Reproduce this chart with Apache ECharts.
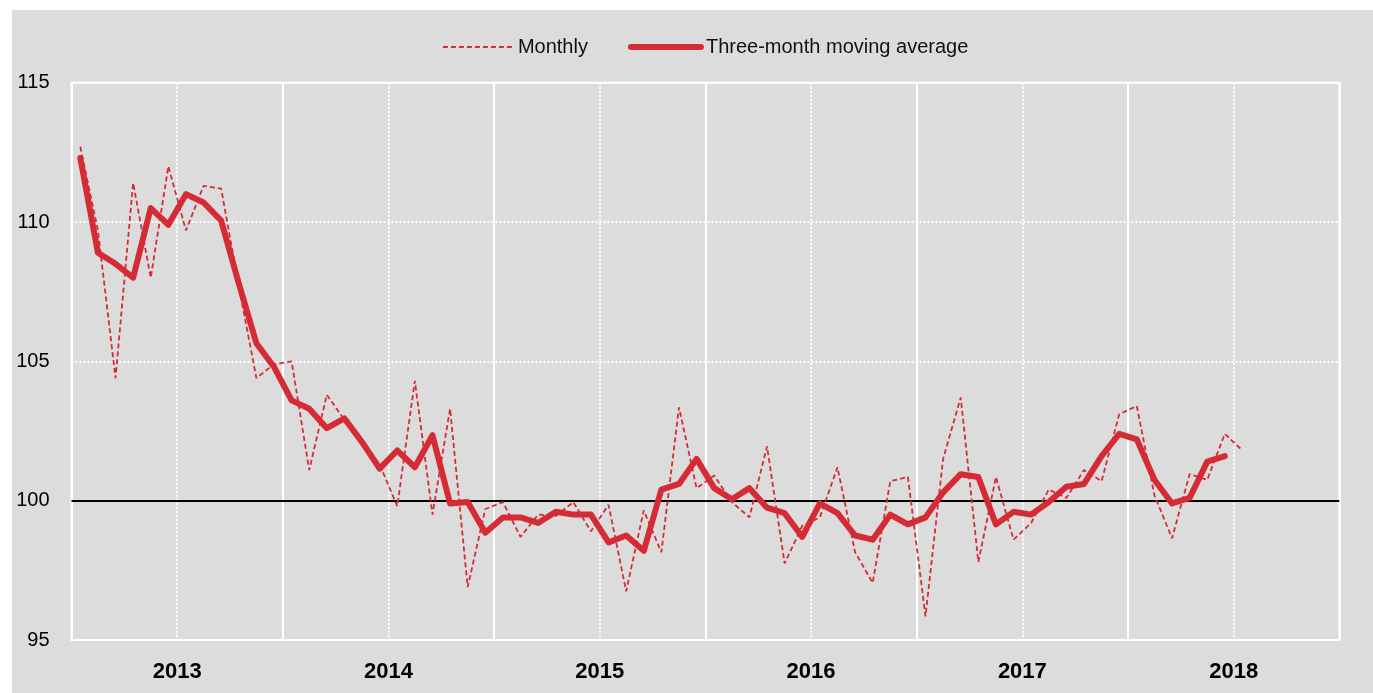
<!DOCTYPE html>
<html>
<head>
<meta charset="utf-8">
<script src="https://cdn.jsdelivr.net/npm/echarts@6/dist/echarts.min.js"></script>
<style>
  html, body { margin: 0; padding: 0; background: #fff; }
  #chart { position: absolute; left: 12px; top: 10px; width: 1361px; height: 683px; }
</style>
</head>
<body>
<div id="chart"></div>
<script>
const years = ['2013', '2014', '2015', '2016', '2017', '2018']
const yTicks = {min: 95, max: 115, step: 5}
const baseline = 100

// monthly index, Jan 2013 - Jul 2018
const monthly = [
  112.7, 109.7, 104.4, 111.4, 108.0, 112.0, 109.7, 111.3, 111.2, 107.7, 104.4, 104.9,
  105.0, 101.1, 103.8, 102.9, 102.2, 101.3, 99.8, 104.3, 99.5, 103.3, 96.9, 99.7,
  99.95, 98.7, 99.5, 99.45, 99.95, 98.9, 99.85, 96.75, 99.65, 98.15, 103.35, 100.45,
  100.9, 99.95, 99.4, 101.95, 97.75, 99.1, 99.4, 101.2, 98.15, 97.05, 100.7, 100.85,
  95.85, 101.5, 103.7, 97.8, 100.85, 98.6, 99.2, 100.4, 100.1, 101.1, 100.7, 103.1,
  103.4, 100.2, 98.65, 100.95, 100.75, 102.4, 101.8
]

// three-month moving average, Jan 2013 - Jun 2018
const movingAvg = [
  112.3, 108.9, 108.5, 108.0, 110.5, 109.9, 111.0, 110.7, 110.05, 107.8, 105.65, 104.8,
  103.6, 103.3, 102.6, 102.95, 102.1, 101.15, 101.8, 101.2, 102.35, 99.9, 99.95, 98.85,
  99.4, 99.4, 99.2, 99.6, 99.5, 99.5, 98.5, 98.75, 98.2, 100.4, 100.6, 101.5,
  100.45, 100.05, 100.45, 99.75, 99.55, 98.7, 99.9, 99.55, 98.75, 98.6, 99.5, 99.15,
  99.4, 100.3, 100.95, 100.85, 99.15, 99.6, 99.5, 99.95, 100.5, 100.6, 101.6, 102.4,
  102.2, 100.75, 99.9, 100.1, 101.4, 101.6
]

const months = []
years.forEach(y => {
  for (let m = 1; m <= 12; m++) months.push(y + '-' + String(m).padStart(2, '0'))
})

const RED = '#d52b35'
const FONT = "'Liberation Sans', Arial, sans-serif"
const DASH = [5, 3]

const monthAxis = (splitInterval, lineType) => ({
  type: 'category',
  position: 'bottom',
  data: months,
  boundaryGap: true,
  axisLine: {show: false},
  axisTick: {show: false},
  axisLabel: {show: false},
  splitLine: {
    show: true,
    interval: splitInterval,
    lineStyle: {color: '#fff', width: 2, type: lineType},
  },
})

const chart = echarts.init(document.getElementById('chart'))
chart.setOption({
  backgroundColor: '#dcdcdc',
  animation: false,
  legend: {
    data: [
      {name: 'Monthly', lineStyle: {width: 1.8, type: DASH}},
      {name: 'Three-month moving average', lineStyle: {width: 6, cap: 'round'}},
    ],
    left: 430,
    top: 27,
    padding: 0,
    itemWidth: 70,
    itemHeight: 14,
    itemGap: 40,
    itemStyle: {opacity: 0},
    textStyle: {fontFamily: FONT, fontSize: 20, color: '#111'},
  },
  grid: {
    left: 59.5,
    right: 33.7,
    top: 72.7,
    bottom: 53,
    show: true,
    borderColor: '#fff',
    borderWidth: 2,
    backgroundColor: 'transparent',
  },
  xAxis: [
    monthAxis(idx => idx % 12 === 0, 'solid'),
    monthAxis(idx => idx % 12 === 6, [2, 2]),
    {
      type: 'category',
      position: 'bottom',
      data: years,
      boundaryGap: true,
      axisLine: {show: false},
      axisTick: {show: false},
      splitLine: {show: false},
      axisLabel: {
        margin: 21,
        fontFamily: FONT,
        fontSize: 22,
        fontWeight: 'bold',
        color: '#000',
      },
    },
  ],
  yAxis: {
    type: 'value',
    min: yTicks.min,
    max: yTicks.max,
    interval: yTicks.step,
    axisLine: {show: false},
    axisTick: {show: false},
    axisLabel: {margin: 22, fontFamily: FONT, fontSize: 20, color: '#000'},
    splitLine: {lineStyle: {color: '#fff', width: 2, type: [2, 2]}},
  },
  series: [
    {
      name: 'Three-month moving average',
      type: 'line',
      xAxisIndex: 0,
      data: movingAvg,
      symbol: 'none',
      lineStyle: {color: RED, width: 6, cap: 'round', join: 'round'},
      itemStyle: {color: RED},
      markLine: {
        silent: true,
        symbol: ['none', 'none'],
        label: {show: false},
        lineStyle: {color: '#000', width: 2, type: 'solid'},
        data: [{yAxis: baseline}],
        z: 1,
      },
    },
    {
      name: 'Monthly',
      type: 'line',
      xAxisIndex: 0,
      data: monthly,
      symbol: 'none',
      lineStyle: {color: RED, width: 1.8, type: DASH},
      itemStyle: {color: RED},
    },
  ],
})
</script>
</body>
</html>
